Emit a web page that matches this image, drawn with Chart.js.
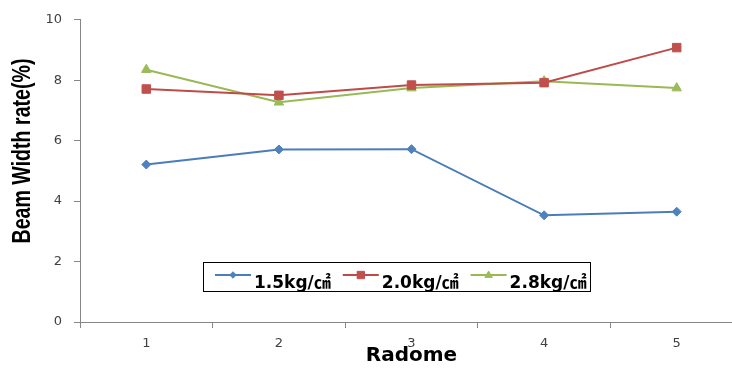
<!DOCTYPE html>
<html><head><meta charset="utf-8">
<script src="https://cdn.jsdelivr.net/npm/chart.js@4.4.0/dist/chart.umd.min.js"></script>
<style>
html,body{margin:0;padding:0;overflow:hidden;background:#fff;width:732px;height:370px;}
#wrap{position:absolute;left:0;top:0;width:750px;height:370px;}
</style></head><body>
<div id="wrap"><canvas id="c" width="750" height="370"></canvas></div>
<script>
const categories = ['1','2','3','4','5'];
const seriesNames = ['1.5kg/㎠','2.0kg/㎠','2.8kg/㎠'];
const s15 = [5.21,5.71,5.72,3.53,3.65];
const s20 = [7.71,7.50,7.84,7.92,9.08];
const s28 = [8.35,7.27,7.74,7.97,7.74];
const yMin = 0, yMax = 10, yStep = 2;
const yTitle = 'Beam Width rate(%)';
const xTitle = 'Radome';

const lineColors = ['#4A7EBB','#BE4B48','#98B954'];
const fillColors = ['#4F81BD','#C0504D','#9BBB59'];
const pStyles = ['rectRot','rect','triangle'];
const pRadius = [4.5,6,5.5];
const seriesData = [s15,s20,s28];

function drawMarker(ctx, style, x, y, r, color){
  ctx.save();
  ctx.fillStyle = color; ctx.strokeStyle = color; ctx.lineWidth = 1;
  ctx.beginPath();
  if(style==='rectRot'){ ctx.moveTo(x,y-r); ctx.lineTo(x+r,y); ctx.lineTo(x,y+r); ctx.lineTo(x-r,y); }
  else if(style==='rect'){ const s=r*0.85; ctx.rect(x-s,y-s,2*s,2*s); }
  else { ctx.moveTo(x,y-r); ctx.lineTo(x+r*0.95,y+r*0.6); ctx.lineTo(x-r*0.95,y+r*0.6); }
  ctx.closePath(); ctx.fill(); ctx.stroke();
  ctx.restore();
}

const legendPlugin = {
  id:'boxLegend',
  afterDatasetsDraw(chart){
    const ctx = chart.ctx;
    ctx.save();
    ctx.fillStyle='#fff'; ctx.strokeStyle='#000'; ctx.lineWidth=1;
    ctx.fillRect(203.5,262.5,387,29); ctx.strokeRect(203.5,262.5,387,29);
    ctx.font = 'bold 17px "DejaVu Sans", "Noto Sans CJK KR", sans-serif';
    ctx.textBaseline='alphabetic';
    let x = 215; const ly = 275;
    chart.data.datasets.forEach((ds,i)=>{
      ctx.strokeStyle = ds.borderColor; ctx.lineWidth = 2;
      ctx.beginPath(); ctx.moveTo(x,ly); ctx.lineTo(x+36,ly); ctx.stroke();
      drawMarker(ctx, ds.pointStyle, x+18, ly, ds.pointRadius*0.72, ds.pointBackgroundColor);
      ctx.fillStyle='#000';
      const tx = x+39;
      ctx.fillText(ds.label, tx, 288);
      x = tx + ctx.measureText(ds.label).width + 12;
    });
    ctx.restore();
  }
};

const yTitlePlugin = {
  id:'yTitleNarrow',
  afterDraw(chart){
    const ctx = chart.ctx;
    ctx.save();
    ctx.font = 'bold 26px "Liberation Sans", Arial, sans-serif';
    const w = ctx.measureText(yTitle).width;
    const target = 185;
    ctx.translate(23, 151);
    ctx.rotate(-Math.PI/2);
    ctx.scale(target / w, 1);
    ctx.fillStyle = '#000';
    ctx.textAlign = 'center';
    ctx.textBaseline = 'middle';
    ctx.fillText(yTitle, 0, 0);
    ctx.restore();
  }
};

const tickFont = {family:'"DejaVu Sans", sans-serif', size:13};
new Chart(document.getElementById('c'), {
  type:'line',
  data:{
    labels: categories,
    datasets: seriesNames.map((n,i)=>({
      label:n, data:seriesData[i],
      borderColor:lineColors[i], backgroundColor:fillColors[i],
      pointBackgroundColor:fillColors[i], pointBorderColor:fillColors[i],
      pointStyle:pStyles[i], pointRadius:pRadius[i], pointBorderWidth:1,
      borderWidth:2, tension:0, fill:false
    }))
  },
  options:{
    responsive:false, animation:false, devicePixelRatio:1,
    layout:{padding:{top:15,left:0,right:0,bottom:0}},
    plugins:{legend:{display:false}, tooltip:{enabled:false}},
    scales:{
      x:{
        offset:true,
        grid:{offset:true, drawOnChartArea:false, drawTicks:true, tickLength:6, color:'#868686'},
        border:{color:'#868686', width:1},
        ticks:{font:tickFont, color:'#404040', padding:8},
        title:{display:true, text:xTitle, color:'#000', font:{family:'"DejaVu Sans", sans-serif', size:20, weight:'bold'}, padding:{top:0,bottom:2}},
        afterFit(s){ s.height = 48; }
      },
      y:{
        min:yMin, max:yMax,
        grid:{drawOnChartArea:false, drawTicks:true, tickLength:6, color:'#868686'},
        border:{color:'#868686', width:1},
        ticks:{stepSize:yStep, font:tickFont, color:'#404040', padding:12},
        title:{display:false},
        afterFit(s){ s.width = 80; }
      }
    }
  },
  plugins:[legendPlugin, yTitlePlugin]
});
</script>
</body></html>
